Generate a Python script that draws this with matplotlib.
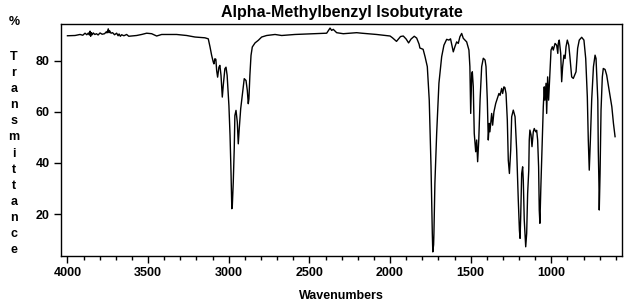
import matplotlib
matplotlib.use("Agg")
import matplotlib.pyplot as plt
from matplotlib.ticker import MultipleLocator

plt.rcParams['font.family'] = ['Liberation Sans', 'DejaVu Sans']

title = "Alpha-Methylbenzyl Isobutyrate"
x_label = "Wavenumbers"
y_letters = "%  Transmittance"

# spectrum (cm-1, %T)
wavenumber = [
    4000, 3953, 3922, 3905, 3891, 3880, 3870, 3864, 3860, 3856, 3852, 3846, 3840, 3830,
    3820, 3810, 3798, 3785, 3770, 3760, 3755, 3747, 3742, 3738, 3730,
    3720, 3708, 3695, 3686, 3680, 3672, 3664, 3650, 3633, 3620, 3602, 3571, 3540, 3509, 3478,
    3447, 3416, 3323, 3261,
    3209, 3148, 3127, 3116, 3106, 3096, 3092, 3086, 3080, 3075, 3069, 3061, 3055, 3048,
    3040, 3034, 3024, 3017, 3010, 2999, 2992, 2986, 2981, 2978, 2972, 2966, 2962, 2955,
    2947, 2941, 2935, 2926, 2914, 2904, 2893, 2885, 2879, 2875, 2869, 2862, 2854, 2837,
    2817, 2796, 2765, 2713, 2672, 2590, 2476, 2393, 2372, 2362, 2352, 2331, 2290, 2207,
    2176, 2083, 2000, 1985, 1960, 1935, 1918, 1900, 1885, 1870, 1850, 1835, 1820, 1815,
    1795, 1783, 1769, 1757, 1746, 1738, 1735, 1730, 1728, 1722, 1711, 1697, 1680, 1666,
    1649, 1635, 1625, 1608, 1598, 1587, 1577, 1567, 1556, 1546, 1525, 1511, 1505, 1500,
    1494, 1490, 1484, 1478, 1469, 1463, 1457, 1450, 1442, 1432, 1422, 1411, 1405, 1397,
    1391, 1385, 1381, 1370, 1364, 1356, 1345, 1335, 1325, 1318, 1308, 1302, 1294, 1288,
    1281, 1273, 1267, 1260, 1252, 1246, 1236, 1225, 1215, 1205, 1198, 1194, 1190, 1184,
    1178, 1174, 1168, 1159, 1153, 1147, 1140, 1137, 1133, 1126, 1120, 1112, 1106, 1097,
    1091, 1085, 1079, 1075, 1071, 1065, 1056, 1050, 1044, 1040, 1033, 1029, 1023, 1017,
    1008, 1002, 994, 988, 977, 967, 960, 957, 951, 942, 936, 930, 922, 915,
    909, 901, 892, 885, 874, 864, 847, 837, 827, 812, 798, 787, 777, 771,
    765, 758, 750, 739, 729, 723, 712, 709, 705, 703, 698, 692, 684, 678,
    667, 657, 642, 625, 615, 605,
]
transmittance = [
    89.8, 89.9, 90.3, 90.0, 90.8, 90.2, 90.9, 90.1, 91.6, 89.6, 91.0, 90.2, 90.9, 90.3,
    90.6, 90.1, 90.9, 90.4, 90.6, 91.3, 90.9, 92.5, 91.0, 91.7, 90.8,
    91.0, 90.2, 90.8, 89.8, 90.5, 89.6, 90.2, 89.8, 90.3, 89.6, 89.7, 89.9, 90.3, 90.8, 90.6,
    89.7, 90.3, 90.3, 89.9,
    89.3, 89.0, 88.6, 85.4, 82.1, 79.5, 78.8, 80.8, 80.6, 76.2, 73.6, 77.5, 78.2, 74.3,
    65.8, 70.4, 76.9, 77.5, 74.3, 62.5, 50.8, 36.4, 22.1, 23.0, 32.5, 45.6, 58.6, 60.6,
    56.0, 47.5, 53.4, 61.2, 67.7, 73.0, 72.3, 68.4, 63.2, 65.1, 74.3, 82.1, 85.4, 87.0,
    88.0, 89.3, 89.9, 90.3, 89.9, 90.3, 90.6, 90.8, 92.8, 91.9, 92.3, 91.0, 90.6, 91.0,
    90.8, 90.3, 89.7, 89.0, 87.6, 89.5, 89.7, 88.5, 87.0, 88.5, 89.6, 88.9, 86.5, 85.0,
    84.5, 81.6, 77.7, 64.6, 38.5, 12.4, 5.2, 8.0, 12.4, 32.0, 51.6, 71.2, 81.6, 86.1,
    88.4, 88.1, 88.6, 83.5, 85.5, 87.4, 86.8, 89.4, 90.7, 88.8, 87.4, 84.2, 77.7, 59.4,
    74.4, 75.7, 69.8, 51.6, 44.4, 49.0, 40.5, 49.0, 64.6, 77.7, 81.0, 80.3, 77.7, 64.6,
    49.0, 55.5, 52.2, 59.4, 54.8, 60.0, 63.3, 65.3, 67.2, 66.5, 69.2, 67.2, 69.8, 69.5,
    67.2, 56.8, 41.1, 35.9, 45.0, 58.1, 60.7, 58.1, 45.0, 25.5, 13.7, 10.5, 19.0, 35.9,
    38.5, 33.3, 17.7, 7.2, 12.4, 28.1, 37.2, 49.0, 52.9, 51.0, 46.4, 52.2, 53.5, 52.2,
    52.8, 49.0, 38.5, 21.6, 16.4, 30.7, 49.0, 62.0, 69.8, 64.6, 71.2, 59.4, 73.7, 64.6,
    76.4, 84.2, 85.5, 84.2, 86.8, 86.1, 82.9, 86.8, 88.1, 82.9, 71.8, 77.7, 82.2, 80.9,
    85.5, 88.1, 86.1, 81.6, 73.7, 73.1, 75.7, 84.9, 88.1, 89.2, 88.1, 80.9, 65.9, 49.0,
    37.2, 49.0, 64.6, 77.7, 82.2, 80.9, 64.6, 45.0, 32.0, 21.6, 35.9, 60.7, 73.7, 77.0,
    76.6, 74.4, 68.5, 62.0, 55.5, 50.3,
]
x_ticks = [4000, 3500, 3000, 2500, 2000, 1500, 1000]
y_ticks = [20, 40, 60, 80]

fig = plt.figure(figsize=(6.38, 3.03), dpi=100)
ax = fig.add_axes([61 / 638, 1 - 256 / 303, 561 / 638, 232 / 303])

ax.plot(wavenumber, transmittance, color='black', lw=1.0)

ax.set_xlim(4040, 562)
ax.set_ylim(3.6, 94.4)
ax.set_xticks(x_ticks)
ax.set_yticks(y_ticks)
ax.xaxis.set_minor_locator(MultipleLocator(100))
ax.tick_params(axis='both', which='major', direction='out', length=5, width=1,
               labelsize=9, pad=3)
ax.tick_params(axis='x', which='minor', direction='out', length=3, width=1)
for lab in ax.get_xticklabels() + ax.get_yticklabels():
    lab.set_fontweight('bold')
for sp in ax.spines.values():
    sp.set_linewidth(1)
    sp.set_color('black')

fig.text(341.5 / 638, 1 - 12 / 303, title, ha='center', va='center',
         fontsize=11.5, fontweight='bold')
fig.text(341.5 / 638, 1 - 296 / 303, x_label, ha='center', va='center',
         fontsize=9, fontweight='bold')

# vertical stacked y label, one letter per line
for i, ch in enumerate(y_letters):
    if ch == ' ':
        continue
    yy = 22 if i == 0 else 57 + (i - 3) * 16.1
    fig.text(14 / 638, 1 - yy / 303, ch, ha='center', va='center',
             fontsize=9, fontweight='bold')

fig.savefig('out.png', dpi=100)
